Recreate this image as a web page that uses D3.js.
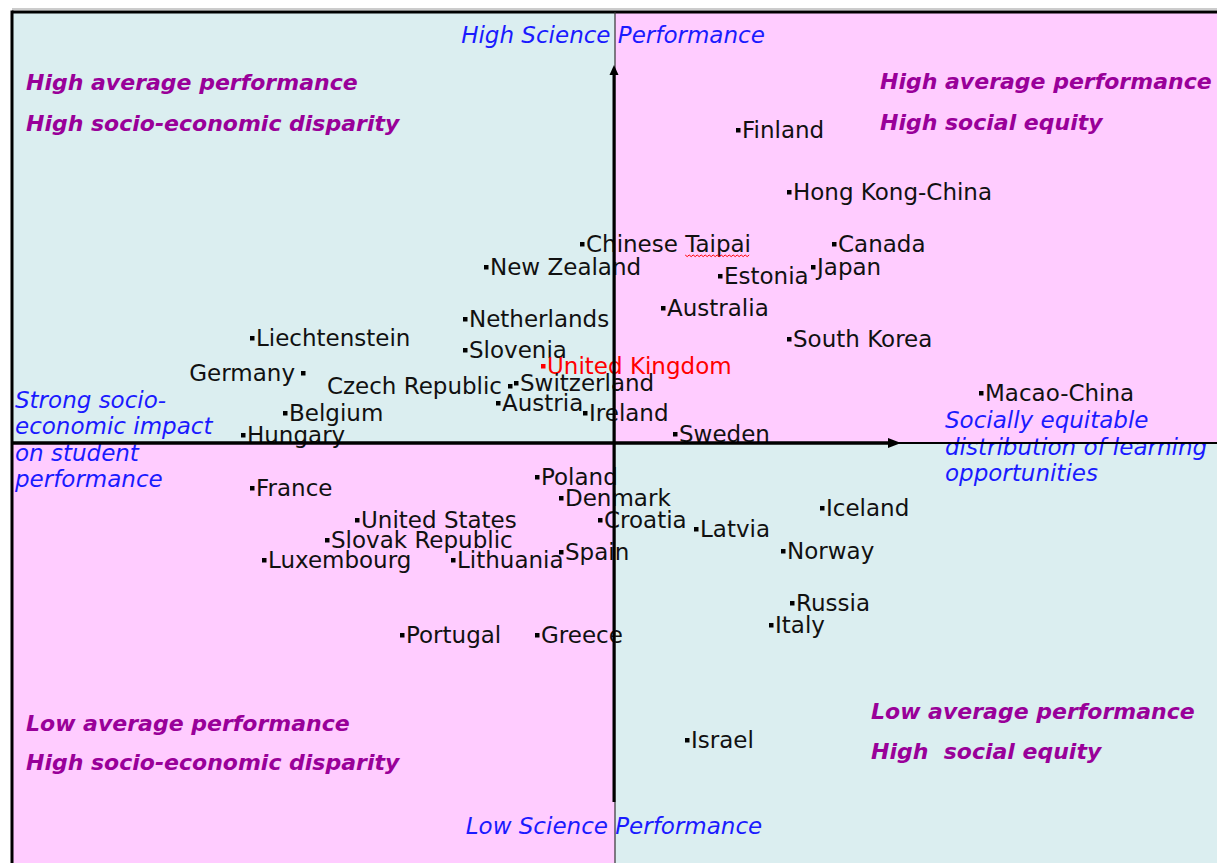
<!DOCTYPE html>
<html>
<head>
<meta charset="utf-8">
<script src="https://cdn.jsdelivr.net/npm/d3@7"></script>
<style>
  html, body { margin: 0; padding: 0; background: #fff; }
  svg { display: block; }
  .country { font-family: 'DejaVu Sans', sans-serif; font-size: 23px; fill: #111; }
  .country.highlight { fill: #ff0000; }
  .axis-note { font-family: 'DejaVu Sans', sans-serif; font-style: italic; font-size: 23px; fill: #1a1aff; }
  .quad-note { font-family: 'DejaVu Sans', sans-serif; font-style: italic; font-weight: bold; font-size: 22px; fill: #990099; white-space: pre; }
</style>
</head>
<body>
<svg id="chart" width="1217" height="863"></svg>
<script>
// countries, equity of learning opportunities (x, right = more equitable), science performance (y)
const countries = [
  'Finland', 'Hong Kong-China', 'Chinese Taipai', 'Canada', 'New Zealand', 'Japan',
  'Estonia', 'Australia', 'Netherlands', 'Liechtenstein', 'South Korea', 'Slovenia',
  'United Kingdom', 'Germany', 'Czech Republic', 'Switzerland', 'Macao-China', 'Belgium',
  'Austria', 'Ireland', 'Hungary', 'Sweden', 'Poland', 'France', 'Denmark', 'Iceland',
  'United States', 'Croatia', 'Latvia', 'Slovak Republic', 'Spain', 'Norway',
  'Luxembourg', 'Lithuania', 'Russia', 'Italy', 'Portugal', 'Greece', 'Israel'
];
const equity = [
  4.1, 5.8, -1.1, 7.3, -4.3, 6.6,
  3.5, 1.6, -5.0, -12.1, 5.8, -5.0,
  -2.4, -10.4, -3.5, -3.3, 12.2, -11.0,
  -3.9, -1.0, -12.4, 2.0, -2.6, -12.1, -1.8, 6.9,
  -8.6, -0.5, 2.7, -9.6, -1.8, 5.6,
  -11.7, -5.4, 5.9, 5.2, -7.1, -2.6, 2.4
];
const science = [
  562.4, 550.0, 539.6, 539.6, 535.0, 535.0,
  533.2, 526.8, 524.6, 520.8, 520.6, 518.4,
  515.2, 513.8, 511.2, 511.8, 509.8, 505.8,
  507.8, 505.8, 501.4, 501.6, 493.0, 490.8, 488.8, 486.8,
  484.4, 484.4, 482.6, 480.4, 478.0, 478.2,
  476.4, 476.4, 467.8, 463.4, 461.4, 461.4, 440.4
];
const leftLabeled = ['Germany', 'Czech Republic'];
const highlighted = 'United Kingdom';

const topNote = 'High Science Performance';
const bottomNote = 'Low Science Performance';
const leftNote = ['Strong socio-', 'economic impact', 'on student', 'performance'];
const rightNote = ['Socially equitable', 'distribution of learning', 'opportunities'];
const quadTopLeft = ['High average performance', 'High socio-economic disparity'];
const quadTopRight = ['High average performance', 'High social equity'];
const quadBottomLeft = ['Low average performance', 'High socio-economic disparity'];
const quadBottomRight = ['Low average performance', 'High  social equity'];

const width = 1217, height = 863;
const svg = d3.select('#chart');

const x = d3.scaleLinear().domain([-20, 20]).range([15, 1215]);
const y = d3.scaleLinear().domain([416, 586]).range([862, 12]);

const cx = x(0), cy = y(500);
const frameLeft = 12, frameTop = 12;

const data = countries.map((name, i) => ({ name, ex: equity[i], sc: science[i] }));

// quadrant backgrounds
const bg = svg.append('g');
const blue = '#dbeef0', pink = '#ffccff';
bg.append('rect').attr('x', frameLeft).attr('y', frameTop).attr('width', cx - frameLeft).attr('height', cy - frameTop).attr('fill', blue);
bg.append('rect').attr('x', cx).attr('y', frameTop).attr('width', width - cx).attr('height', cy - frameTop).attr('fill', pink);
bg.append('rect').attr('x', frameLeft).attr('y', cy).attr('width', cx - frameLeft).attr('height', height - cy).attr('fill', pink);
bg.append('rect').attr('x', cx).attr('y', cy).attr('width', width - cx).attr('height', height - cy).attr('fill', blue);

// frame (right and bottom edges run off the picture)
svg.append('line').attr('x1', frameLeft).attr('x2', frameLeft).attr('y1', frameTop - 1.5).attr('y2', height)
  .attr('stroke', '#000').attr('stroke-width', 3);
svg.append('line').attr('x1', frameLeft).attr('x2', width).attr('y1', frameTop).attr('y2', frameTop)
  .attr('stroke', '#000').attr('stroke-width', 3);
svg.append('line').attr('x1', frameLeft).attr('x2', width).attr('y1', frameTop - 3).attr('y2', frameTop - 3)
  .attr('stroke', '#999').attr('stroke-width', 1);

// notes
const notes = svg.append('g');
notes.append('text').attr('class', 'axis-note').attr('x', cx - 2).attr('y', 43)
  .attr('text-anchor', 'middle').text(topNote);
notes.append('text').attr('class', 'axis-note').attr('x', cx - 1).attr('y', 834)
  .attr('text-anchor', 'middle').text(bottomNote);

notes.selectAll('.left-note').data(leftNote).enter()
  .append('text').attr('class', 'axis-note left-note')
  .attr('x', 15).attr('y', (d, i) => 408 + i * 26.3).text(d => d);

notes.selectAll('.right-note').data(rightNote).enter()
  .append('text').attr('class', 'axis-note right-note')
  .attr('x', 945).attr('y', (d, i) => 428 + i * 26.5).text(d => d);

function quadNote(lines, x0, y0, gap) {
  notes.selectAll(null).data(lines).enter()
    .append('text').attr('class', 'quad-note')
    .attr('x', x0).attr('y', (d, i) => y0 + i * gap).text(d => d);
}
quadNote(quadTopLeft, 26, 90, 41);
quadNote(quadTopRight, 880, 89, 41);
quadNote(quadBottomLeft, 26, 731, 39);
quadNote(quadBottomRight, 871, 719, 40);

// points and labels
const pts = svg.append('g');
pts.selectAll('.marker').data(data).enter()
  .append('rect').attr('class', 'marker')
  .attr('x', d => x(d.ex) - 2).attr('y', d => y(d.sc) - 2)
  .attr('width', 4.5).attr('height', 4.5)
  .attr('fill', d => d.name === highlighted ? '#ff0000' : '#000');

pts.selectAll('.country').data(data).enter()
  .append('text')
  .attr('class', d => d.name === highlighted ? 'country highlight' : 'country')
  .attr('x', d => leftLabeled.includes(d.name) ? x(d.ex) - 8 : x(d.ex) + 4)
  .attr('y', d => y(d.sc) + 7.5)
  .attr('text-anchor', d => leftLabeled.includes(d.name) ? 'end' : 'start')
  .text(d => d.name);

// red spell-check squiggle under "Taipai"
pts.selectAll('.country').filter(d => d.name === 'Chinese Taipai').each(function (d) {
  const start = this.getSubStringLength(0, 8);
  const len = this.getSubStringLength(8, 6);
  const x0 = x(d.ex) + 4 + start, yb = y(d.sc) + 11;
  const zz = [];
  for (let k = 0; k <= len; k += 2) zz.push([x0 + k, yb + (k % 4 === 0 ? 0 : 1.6)]);
  pts.append('path').attr('d', d3.line()(zz))
    .attr('fill', 'none').attr('stroke', '#ff0000').attr('stroke-width', 1);
});

// axes on top
const axes = svg.append('g');
axes.append('line').attr('x1', cx).attr('x2', cx).attr('y1', frameTop).attr('y2', height)
  .attr('stroke', '#333').attr('stroke-width', 1.2);
axes.append('line').attr('x1', cx - 1).attr('x2', cx - 1).attr('y1', 802).attr('y2', 72)
  .attr('stroke', '#000').attr('stroke-width', 3);
axes.append('path').attr('d', `M${cx - 1},65 L${cx - 5.5},75 L${cx + 3.5},75 Z`).attr('fill', '#000');

axes.append('line').attr('x1', frameLeft).attr('x2', width).attr('y1', cy + 1).attr('y2', cy + 1)
  .attr('stroke', '#000').attr('stroke-width', 1.8);
axes.append('line').attr('x1', frameLeft).attr('x2', 890).attr('y1', cy + 1).attr('y2', cy + 1)
  .attr('stroke', '#000').attr('stroke-width', 3.5);
axes.append('path').attr('d', `M901,${cy + 1} L888,${cy - 4} L888,${cy + 6} Z`).attr('fill', '#000');
</script>
</body>
</html>
